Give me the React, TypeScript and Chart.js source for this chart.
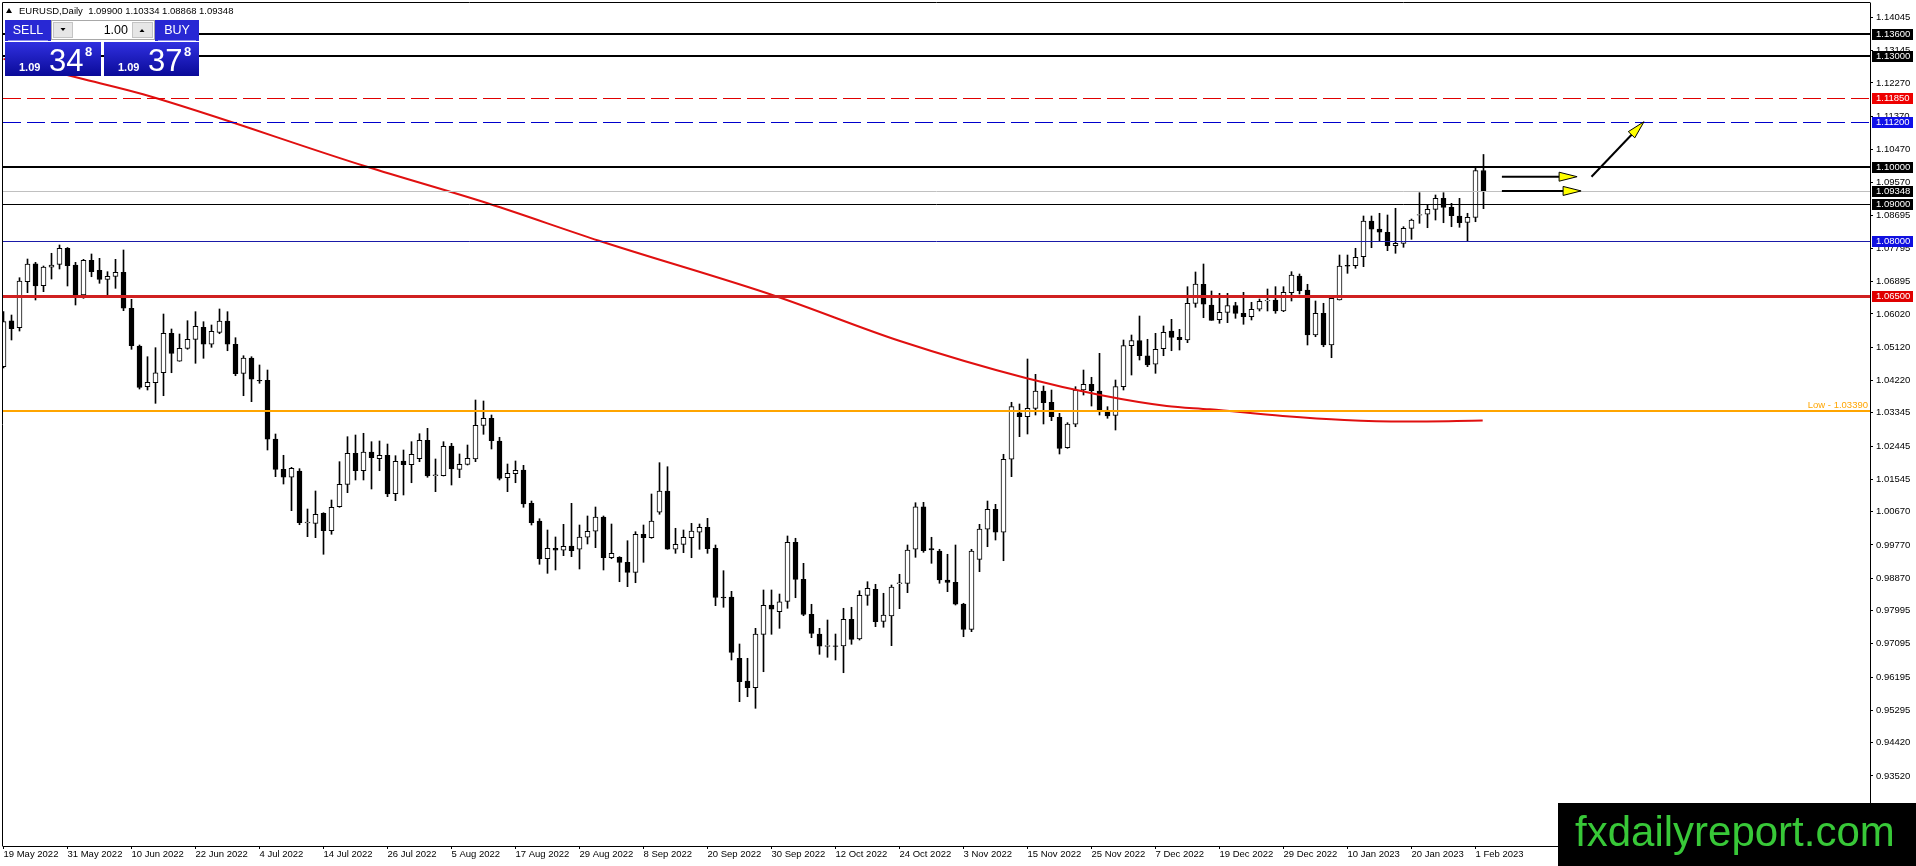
import React, { useEffect, useRef } from "react";
import { Chart, registerables } from "chart.js";

Chart.register(...registerables);

// ---------- data ----------
const dateLabels = [
  "19 May 2022", "31 May 2022", "10 Jun 2022", "22 Jun 2022", "4 Jul 2022", "14 Jul 2022",
  "26 Jul 2022", "5 Aug 2022", "17 Aug 2022", "29 Aug 2022", "8 Sep 2022", "20 Sep 2022",
  "30 Sep 2022", "12 Oct 2022", "24 Oct 2022", "3 Nov 2022", "15 Nov 2022", "25 Nov 2022",
  "7 Dec 2022", "19 Dec 2022", "29 Dec 2022", "10 Jan 2023", "20 Jan 2023", "1 Feb 2023",
];
const dateLabelIdx = [0, 8, 16, 24, 32, 40, 48, 56, 64, 72, 80, 88, 96, 104, 112, 120, 128, 136, 144, 152, 160, 168, 176, 184];

const opens = [
  1.04593, 1.05837, 1.05648, 1.06892, 1.07379, 1.06784, 1.07282, 1.07363, 1.07796, 1.07344,
  1.06533, 1.07471, 1.07201, 1.06957, 1.07038, 1.07146, 1.06173, 1.05153, 1.04052, 1.04160,
  1.04430, 1.05496, 1.04739, 1.05090, 1.05334, 1.05659, 1.05199, 1.05523, 1.05829, 1.05199,
  1.04414, 1.04828, 1.04225, 1.04225, 1.02637, 1.01817, 1.01601, 1.01771, 1.00364, 1.00356,
  1.00627, 1.00156, 1.00805, 1.01411, 1.02250, 1.01779, 1.02285, 1.02104, 1.02196, 1.01157,
  1.02041, 1.01941, 1.02104, 1.02602, 1.01655, 1.01644, 1.02447, 1.01817, 1.01952, 1.02096,
  1.03007, 1.03197, 1.02583, 1.01590, 1.01698, 1.01798, 1.00897, 1.00418, 0.99398, 0.99680,
  0.99626, 0.99742, 0.99653, 0.99978, 1.00140, 1.00527, 0.99425, 0.99436, 0.99301, 0.99030,
  1.00059, 0.99967, 1.00654, 1.01230, 0.99653, 0.99788, 0.99967, 1.00113, 1.00248, 0.99680,
  0.98354, 0.98362, 0.96704, 0.96090, 0.95909, 0.97353, 0.98146, 0.97965, 0.98246, 0.99842,
  0.98841, 0.97894, 0.97361, 0.97037, 0.97037, 0.97037, 0.97759, 0.97226, 0.98408, 0.98571,
  0.97705, 0.97848, 0.98733, 0.98733, 0.99653, 1.00805, 0.99669, 0.99607, 0.98822, 0.98760,
  0.98173, 0.97488, 0.99382, 1.00194, 1.00735, 1.00113, 1.02088, 1.03348, 1.03240, 1.03467,
  1.03935, 1.03630, 1.03224, 1.02401, 1.03035, 1.03962, 1.04116, 1.03935, 1.03359, 1.03278,
  1.04052, 1.05161, 1.05296, 1.04890, 1.04658, 1.05080, 1.05558, 1.05388, 1.05315, 1.06308,
  1.06822, 1.06262, 1.05864, 1.06064, 1.06243, 1.06037, 1.05945, 1.06146, 1.06378, 1.06397,
  1.06100, 1.06595, 1.07046, 1.06668, 1.05450, 1.06037, 1.05180, 1.06397, 1.07336, 1.07325,
  1.07569, 1.08534, 1.08318, 1.08229, 1.07866, 1.07931, 1.08337, 1.08697, 1.08716, 1.08851,
  1.09148, 1.08905, 1.08670, 1.08499, 1.08634, 1.09900,
];
const highs = [
  1.06081, 1.05991, 1.07000, 1.07506, 1.07417, 1.07317, 1.07661, 1.07885, 1.07817, 1.07417,
  1.07498, 1.07642, 1.07525, 1.07163, 1.07498, 1.07750, 1.06416, 1.05180, 1.04863, 1.05107,
  1.06018, 1.05613, 1.05477, 1.05837, 1.06081, 1.05810, 1.05721, 1.06154, 1.06081, 1.05377,
  1.04890, 1.04863, 1.04639, 1.04503, 1.02772, 1.02196, 1.01871, 1.01834, 1.00743, 1.01230,
  1.00643, 1.00987, 1.02023, 1.02699, 1.02745, 1.02791, 1.02564, 1.02583, 1.02501, 1.02185,
  1.02339, 1.02564, 1.02780, 1.02926, 1.02096, 1.02564, 1.02520, 1.02231, 1.02474, 1.03692,
  1.03665, 1.03286, 1.02683, 1.01960, 1.02042, 1.01925, 1.00959, 1.00480, 1.00175, 0.99986,
  1.00329, 1.00897, 1.00310, 1.00554, 1.00797, 1.00554, 1.00337, 0.99453, 0.99885, 1.00129,
  1.00310, 1.01149, 1.01996, 1.01887, 1.00221, 1.00175, 1.00356, 1.00337, 1.00491, 0.99769,
  0.99074, 0.98516, 0.97091, 0.96704, 0.97515, 0.98552, 0.98552, 0.98443, 1.00013, 0.99951,
  0.99274, 0.98165, 0.97515, 0.97740, 0.97361, 0.98057, 0.98084, 0.98532, 0.98776, 0.98706,
  0.98463, 0.98687, 0.98977, 0.99769, 1.00913, 1.00924, 0.99978, 0.99653, 0.99518, 0.99769,
  0.98192, 0.99653, 1.00329, 1.00959, 1.00870, 1.02223, 1.03630, 1.03584, 1.04801, 1.04387,
  1.04071, 1.03962, 1.03332, 1.03078, 1.04052, 1.04503, 1.04306, 1.04955, 1.03511, 1.04233,
  1.05315, 1.05450, 1.05964, 1.05334, 1.05496, 1.05694, 1.05875, 1.05604, 1.06757, 1.07155,
  1.07371, 1.06641, 1.06578, 1.06578, 1.06335, 1.06605, 1.06335, 1.06424, 1.06695, 1.06757,
  1.06757, 1.07163, 1.07100, 1.06822, 1.06370, 1.06308, 1.06443, 1.07614, 1.07614, 1.07796,
  1.08670, 1.08670, 1.08743, 1.08697, 1.08878, 1.08380, 1.08588, 1.09300, 1.08967, 1.09238,
  1.09300, 1.09013, 1.09148, 1.08743, 1.09960, 1.10334,
];
const lows = [
  1.04558, 1.05315, 1.05558, 1.06595, 1.06397, 1.06622, 1.06965, 1.07236, 1.06776, 1.06262,
  1.06443, 1.07027, 1.06849, 1.06533, 1.06713, 1.06108, 1.05063, 1.03989, 1.03962, 1.03602,
  1.03808, 1.04430, 1.04739, 1.05063, 1.04685, 1.04820, 1.05117, 1.05485, 1.05025, 1.04349,
  1.03808, 1.03646, 1.04144, 1.02339, 1.01617, 1.01419, 1.00697, 1.00318, 0.99994, 0.99967,
  0.99518, 1.00059, 1.00789, 1.01184, 1.01528, 1.01528, 1.01284, 1.01779, 1.01076, 1.00968,
  1.01122, 1.01454, 1.02023, 1.01601, 1.01211, 1.01636, 1.01392, 1.01590, 1.01933, 1.02023,
  1.02764, 1.02366, 1.01528, 1.01211, 1.01454, 1.00789, 1.00310, 0.99247, 0.99003, 0.99093,
  0.99480, 0.99453, 0.99120, 0.99796, 0.99696, 0.99093, 0.99398, 0.98776, 0.98641, 0.98749,
  0.99301, 0.99951, 1.00600, 0.99653, 0.99544, 0.99561, 0.99425, 0.99653, 0.99544, 0.98127,
  0.98084, 0.96658, 0.95530, 0.95665, 0.95351, 0.96341, 0.97353, 0.97515, 0.98057, 0.98343,
  0.97856, 0.97261, 0.96812, 0.96731, 0.96658, 0.96314, 0.97083, 0.97199, 0.98138, 0.97559,
  0.97543, 0.97045, 0.98046, 0.98479, 0.99436, 0.99571, 0.99274, 0.98733, 0.98506, 0.98146,
  0.97288, 0.97424, 0.99047, 0.99723, 0.99904, 0.99344, 1.01617, 1.02699, 1.02772, 1.03286,
  1.03043, 1.03132, 1.02231, 1.02385, 1.02969, 1.03827, 1.03529, 1.03286, 1.03197, 1.02880,
  1.03962, 1.04368, 1.04774, 1.04593, 1.04414, 1.04890, 1.05025, 1.05044, 1.05242, 1.06200,
  1.05918, 1.05848, 1.05767, 1.05783, 1.05902, 1.05740, 1.05856, 1.06100, 1.06100, 1.06037,
  1.06081, 1.06370, 1.06559, 1.05180, 1.05404, 1.05133, 1.04836, 1.06397, 1.07119, 1.07255,
  1.07298, 1.07812, 1.07993, 1.07731, 1.07661, 1.07823, 1.08039, 1.08472, 1.08353, 1.08561,
  1.08488, 1.08380, 1.08364, 1.07993, 1.08515, 1.08868,
];
const closes = [
  1.05810, 1.05621, 1.06911, 1.07371, 1.06776, 1.07290, 1.07344, 1.07796, 1.07325, 1.06533,
  1.07471, 1.07163, 1.06957, 1.07038, 1.07146, 1.06173, 1.05161, 1.04035, 1.04171, 1.04430,
  1.05496, 1.04955, 1.05090, 1.05334, 1.05686, 1.05199, 1.05550, 1.05829, 1.05199, 1.04403,
  1.04828, 1.04252, 1.04206, 1.02629, 1.01817, 1.01601, 1.01844, 1.00372, 1.00391, 1.00600,
  1.00156, 1.00789, 1.01411, 1.02250, 1.01779, 1.02285, 1.02131, 1.02196, 1.01149, 1.02033,
  1.01941, 1.02223, 1.02602, 1.01636, 1.01655, 1.02439, 1.01825, 1.01952, 1.02115, 1.03007,
  1.03197, 1.02591, 1.01573, 1.01709, 1.01790, 1.00878, 1.00372, 0.99398, 0.99680, 0.99626,
  0.99734, 0.99615, 0.99986, 1.00140, 1.00527, 0.99425, 0.99544, 0.99301, 0.99030, 1.00059,
  0.99967, 1.00418, 1.01230, 0.99653, 0.99788, 0.99978, 1.00148, 1.00248, 0.99669, 0.98354,
  0.98343, 0.96866, 0.96071, 0.95909, 0.97361, 0.98138, 0.98030, 0.98235, 0.99842, 0.98841,
  0.97894, 0.97380, 0.97029, 0.97040, 0.97030, 0.97759, 0.97218, 0.98408, 0.98598, 0.97694,
  0.97875, 0.98633, 0.98733, 0.99634, 1.00805, 0.99615, 0.99634, 0.98822, 0.98760, 0.98165,
  0.97488, 0.99607, 1.00202, 1.00735, 1.00113, 1.02088, 1.03511, 1.03240, 1.03467, 1.03935,
  1.03619, 1.03240, 1.02385, 1.03043, 1.03962, 1.04116, 1.03943, 1.03421, 1.03259, 1.04052,
  1.05161, 1.05296, 1.04890, 1.04639, 1.05063, 1.05523, 1.05388, 1.05323, 1.06308, 1.06830,
  1.06281, 1.05848, 1.06064, 1.06243, 1.06037, 1.05945, 1.06146, 1.06362, 1.06385, 1.06100,
  1.06605, 1.07073, 1.06649, 1.05450, 1.06037, 1.05180, 1.06443, 1.07317, 1.07309, 1.07552,
  1.08534, 1.08310, 1.08229, 1.07866, 1.07931, 1.08337, 1.08561, 1.08705, 1.08851, 1.09148,
  1.08905, 1.08678, 1.08488, 1.08634, 1.09900, 1.09348,
];

// moving average, read as sparse points (bar index, price)
const maIdx = [0, 9.56, 17.44, 45.44, 60.7, 74.44, 96.56, 112.06, 127.9, 137.06, 145.4, 150.8, 159.9, 167.6, 175.2, 184.9];
const maVals = [1.1292, 1.12395, 1.11962, 1.1, 1.09, 1.08, 1.065, 1.05288, 1.04279, 1.03827, 1.0353, 1.0344, 1.03259, 1.03151, 1.0311, 1.03137];

const yTickValues = [
  1.14045, 1.13145, 1.1227, 1.1137, 1.1047, 1.0957, 1.08695, 1.07795, 1.06895, 1.0602, 1.0512, 1.0422,
  1.03345, 1.02445, 1.01545, 1.0067, 0.9977, 0.9887, 0.97995, 0.97095, 0.96195, 0.95295, 0.9442, 0.9352,
];

const levelValues = [1.136, 1.13, 1.1185, 1.112, 1.1, 1.09348, 1.09, 1.08, 1.065, 1.0339];
const lowLabel = "Low - 1.03390";
const headerSymbol = "EURUSD,Daily";
const headerOHLC = ["1.09900", "1.10334", "1.08868", "1.09348"];
const lotText = "1.00";
const sellPrice = ["1.09", "34", "8"];
const buyPrice = ["1.09", "37", "8"];
const watermark = "fxdailyreport.com";

// annotation arrows in data space
const arrowFromIdx = [187.3, 187.3, 198.5];
const arrowFromPrice = [1.09733, 1.09348, 1.09733];
const arrowToIdx = [196.7, 197.2, 205.06];
const arrowToPrice = [1.09733, 1.09348, 1.1122];

// ---------- styles ----------
const levelStyles = [
  { color: "#000000", width: 2, dash: [] as number[], box: "#000000" },
  { color: "#000000", width: 2, dash: [], box: "#000000" },
  { color: "#e00000", width: 1, dash: [18, 6], box: "#ee0000" },
  { color: "#0000cc", width: 1, dash: [18, 6], box: "#1010e8" },
  { color: "#000000", width: 2, dash: [], box: "#000000" },
  { color: "#c0c0c0", width: 1, dash: [], box: "#000000" },
  { color: "#000000", width: 1, dash: [], box: "#000000" },
  { color: "#1a1aa8", width: 1, dash: [], box: "#1010e0" },
  { color: "#d02020", width: 3, dash: [], box: "#e00000" },
  { color: "#ffa500", width: 2, dash: [], box: "" },
];
const FONT = "'Liberation Sans', Arial, sans-serif";

function drawArrow(ctx: CanvasRenderingContext2D, x0: number, y0: number, x1: number, y1: number) {
  const ang = Math.atan2(y1 - y0, x1 - x0);
  const headLen = 18;
  const headW = 4.5;
  const bx = x1 - headLen * Math.cos(ang);
  const by = y1 - headLen * Math.sin(ang);
  ctx.setLineDash([]);
  ctx.strokeStyle = "#000";
  ctx.lineWidth = 2;
  ctx.beginPath();
  ctx.moveTo(x0, y0);
  ctx.lineTo(bx, by);
  ctx.stroke();
  ctx.beginPath();
  ctx.moveTo(x1, y1);
  ctx.lineTo(bx + headW * Math.sin(ang), by - headW * Math.cos(ang));
  ctx.lineTo(bx - headW * Math.sin(ang), by + headW * Math.cos(ang));
  ctx.closePath();
  ctx.fillStyle = "#ffff00";
  ctx.fill();
  ctx.lineWidth = 1;
  ctx.stroke();
}

function drawPanel(ctx: CanvasRenderingContext2D) {
  ctx.save();
  ctx.fillStyle = "#000";
  ctx.beginPath();
  ctx.moveTo(6, 13);
  ctx.lineTo(12, 13);
  ctx.lineTo(9, 8);
  ctx.closePath();
  ctx.fill();
  ctx.font = `9.5px ${FONT}`;
  ctx.textBaseline = "alphabetic";
  ctx.textAlign = "left";
  ctx.fillText(headerSymbol + "  " + headerOHLC.join(" "), 19, 14);

  const btn = (x: number, w: number, label: string) => {
    ctx.fillStyle = "#2828d4";
    ctx.fillRect(x, 20, w, 21);
    ctx.strokeStyle = "#8c8cf0";
    ctx.lineWidth = 1;
    ctx.beginPath();
    ctx.moveTo(x + 3, 40.5);
    ctx.lineTo(x + w - 3, 40.5);
    ctx.stroke();
    ctx.fillStyle = "#fff";
    ctx.font = `12.5px ${FONT}`;
    ctx.textAlign = "center";
    ctx.textBaseline = "middle";
    ctx.fillText(label, x + w / 2, 30.5);
  };
  btn(5, 46, "SELL");
  btn(155, 44, "BUY");

  ctx.fillStyle = "#ffffff";
  ctx.fillRect(51, 20, 104, 20);
  ctx.strokeStyle = "#a8a8a8";
  ctx.strokeRect(51.5, 20.5, 103, 19);
  ctx.fillStyle = "#e6e6e6";
  ctx.fillRect(53, 22, 20, 16);
  ctx.fillRect(132, 22, 21, 16);
  ctx.strokeStyle = "#c4c4c4";
  ctx.strokeRect(53.5, 22.5, 19, 15);
  ctx.strokeRect(132.5, 22.5, 20, 15);
  ctx.fillStyle = "#000";
  ctx.beginPath();
  ctx.moveTo(60.5, 28);
  ctx.lineTo(65.5, 28);
  ctx.lineTo(63, 31);
  ctx.closePath();
  ctx.fill();
  ctx.beginPath();
  ctx.moveTo(139.5, 32);
  ctx.lineTo(144.5, 32);
  ctx.lineTo(142, 29);
  ctx.closePath();
  ctx.fill();
  ctx.font = `12.5px ${FONT}`;
  ctx.textAlign = "right";
  ctx.textBaseline = "middle";
  ctx.fillText(lotText, 128, 30.5);

  const box = (x: number, w: number, parts: string[]) => {
    const g = ctx.createLinearGradient(0, 42, 0, 76);
    g.addColorStop(0, "#3030e0");
    g.addColorStop(1, "#0a0a98");
    ctx.fillStyle = g;
    ctx.fillRect(x, 42, w, 34);
    ctx.fillStyle = "#fff";
    ctx.textAlign = "left";
    ctx.textBaseline = "alphabetic";
    ctx.font = `bold 11px ${FONT}`;
    ctx.fillText(parts[0], x + 14, 70.5);
    ctx.font = `31px ${FONT}`;
    ctx.fillText(parts[1], x + 44, 71);
    ctx.font = `bold 13px ${FONT}`;
    ctx.fillText(parts[2], x + 80, 56);
  };
  box(5, 96, sellPrice);
  box(104, 95, buyPrice);
  ctx.restore();
}

const overlayPlugin = {
  id: "mtOverlay",
  afterDatasetsDraw(chart: any) {
    const { ctx, chartArea: a, scales } = chart;
    const x = scales.x;
    const y = scales.y;
    ctx.save();
    ctx.beginPath();
    ctx.rect(a.left, a.top, a.right - a.left, a.bottom - a.top);
    ctx.clip();
    levelValues.forEach((v, i) => {
      const st = levelStyles[i];
      let py = Math.round(y.getPixelForValue(v));
      if (st.width % 2 === 1) py += 0.5;
      ctx.strokeStyle = st.color;
      ctx.lineWidth = st.width;
      ctx.setLineDash(st.dash);
      ctx.beginPath();
      ctx.moveTo(a.left, py);
      ctx.lineTo(a.right, py);
      ctx.stroke();
    });
    ctx.setLineDash([]);
    const lowY = y.getPixelForValue(levelValues[levelValues.length - 1]);
    ctx.font = `9.5px ${FONT}`;
    ctx.fillStyle = "#ffa500";
    ctx.textAlign = "right";
    ctx.textBaseline = "alphabetic";
    ctx.fillText(lowLabel, a.right - 2, lowY - 3);
    arrowFromIdx.forEach((_, i) => {
      drawArrow(
        ctx,
        x.getPixelForValue(arrowFromIdx[i]),
        y.getPixelForValue(arrowFromPrice[i]),
        x.getPixelForValue(arrowToIdx[i]),
        y.getPixelForValue(arrowToPrice[i])
      );
    });
    ctx.restore();
  },
  afterDraw(chart: any) {
    const { ctx, chartArea: a, scales } = chart;
    const y = scales.y;
    ctx.save();
    ctx.strokeStyle = "#000";
    ctx.lineWidth = 1;
    ctx.beginPath();
    ctx.moveTo(a.left - 0.5, a.bottom + 0.5);
    ctx.lineTo(a.left - 0.5, a.top - 0.5);
    ctx.lineTo(a.right + 0.5, a.top - 0.5);
    ctx.stroke();
    ctx.font = `9.5px ${FONT}`;
    ctx.textAlign = "left";
    ctx.textBaseline = "middle";
    levelValues.forEach((v, i) => {
      const st = levelStyles[i];
      if (!st.box) return;
      const py = Math.round(y.getPixelForValue(v));
      ctx.fillStyle = st.box;
      ctx.fillRect(a.right + 2, py - 5, 41, 11);
      ctx.fillStyle = "#fff";
      ctx.fillText(v.toFixed(5), a.right + 6, py + 0.5);
    });
    drawPanel(ctx);
    ctx.fillStyle = "#000";
    ctx.fillRect(1558, 803, 358, 63);
    ctx.fillStyle = "#38c838";
    ctx.font = `42px ${FONT}`;
    ctx.textAlign = "left";
    ctx.textBaseline = "alphabetic";
    ctx.fillText(watermark, 1575, 846);
    ctx.restore();
  },
};

export default function App() {
  const ref = useRef<HTMLCanvasElement | null>(null);

  useEffect(() => {
    document.body.style.margin = "0";
    document.body.style.overflow = "hidden";
    if (!ref.current) return;
    const idx = opens.map((_, i) => i);
    const wickData = idx.map((i) => ({ x: i, y: [lows[i], highs[i]] }));
    const bodyData = idx.map((i) => {
      let lo = Math.min(opens[i], closes[i]);
      let hi = Math.max(opens[i], closes[i]);
      if (hi - lo < 0.0002) {
        const m = (hi + lo) / 2;
        lo = m - 0.0001;
        hi = m + 0.0001;
      }
      return { x: i, y: [lo, hi] };
    });
    const bodyColors = idx.map((i) => (closes[i] >= opens[i] ? "#ffffff" : "#000000"));

    const chart = new Chart(ref.current, {
      type: "bar",
      data: {
        datasets: [
          {
            type: "line",
            data: maIdx.map((v, i) => ({ x: v, y: maVals[i] })),
            borderColor: "#e01010",
            borderWidth: 2,
            pointRadius: 0,
            cubicInterpolationMode: "monotone",
            order: 0,
          } as any,
          {
            type: "bar",
            data: bodyData,
            backgroundColor: bodyColors,
            borderColor: "#000000",
            borderWidth: 1,
            borderSkipped: false,
            barThickness: 5,
            grouped: false,
            order: 1,
          } as any,
          {
            type: "bar",
            data: wickData,
            backgroundColor: "#000000",
            borderWidth: 0,
            barThickness: 1,
            grouped: false,
            order: 2,
          } as any,
        ],
      },
      options: {
        animation: false,
        responsive: false,
        devicePixelRatio: 1,
        layout: { padding: { left: 3, top: 3, right: 0, bottom: 0 } },
        plugins: { legend: { display: false }, tooltip: { enabled: false } },
        scales: {
          x: {
            type: "linear",
            offset: false,
            min: -0.0625,
            max: 233.3125,
            position: "bottom",
            afterBuildTicks: (s: any) => {
              s.ticks = dateLabelIdx.map((v) => ({ value: v }));
            },
            afterFit: (s: any) => {
              s.height = 20;
              s.paddingLeft = 0;
              s.paddingRight = 0;
            },
            ticks: {
              autoSkip: false,
              maxRotation: 0,
              minRotation: 0,
              align: "start",
              padding: 0,
              color: "#000",
              font: { family: FONT, size: 9.5 },
              callback: (_v: any, i: number) => dateLabels[i],
            },
            grid: { drawOnChartArea: false, drawTicks: true, tickLength: 3, color: "#000", offset: false },
            border: { display: true, color: "#000" },
          },
          y: {
            type: "linear",
            position: "right",
            min: 0.91626,
            max: 1.14432,
            beginAtZero: false,
            afterBuildTicks: (s: any) => {
              s.ticks = yTickValues.map((v) => ({ value: v }));
            },
            afterFit: (s: any) => {
              s.width = 46;
              s.paddingTop = 0;
              s.paddingBottom = 0;
            },
            ticks: {
              autoSkip: false,
              padding: 3,
              color: "#000",
              font: { family: FONT, size: 9.5 },
              callback: (v: any) => Number(v).toFixed(5),
            },
            grid: { drawOnChartArea: false, drawTicks: true, tickLength: 3, color: "#000" },
            border: { display: true, color: "#000" },
          },
        },
      } as any,
      plugins: [overlayPlugin],
    });
    return () => chart.destroy();
  }, []);

  return (
    <div style={{ width: 1916, height: 866, position: "relative", background: "#fff" }}>
      <canvas ref={ref} width={1916} height={866} style={{ display: "block" }} />
    </div>
  );
}
